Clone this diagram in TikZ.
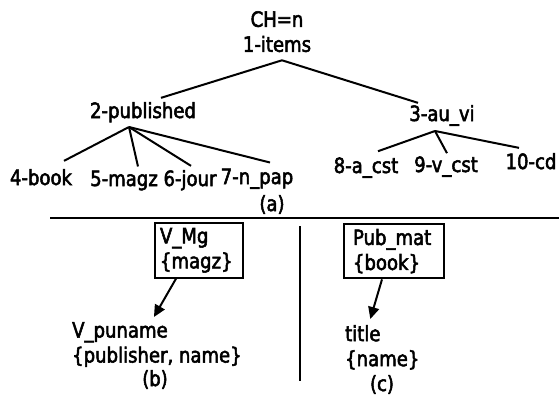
\documentclass[tikz,border=0pt]{standalone}
\usepackage{fontspec}
\setmainfont{DejaVu Sans}[FakeStretch=0.86,FakeBold=2.5]
\usetikzlibrary{arrows.meta}
\begin{document}
\begin{tikzpicture}[x=1pt,y=-1pt,
  lbl/.style={inner sep=0pt, font=\fontsize{21}{25}\selectfont},
  branch/.style={line width=2pt},
  boxlbl/.style={lbl, draw, line width=2pt, align=left, inner ysep=5pt},
  pointer/.style={line width=2pt, -{Triangle[length=12pt,width=11pt]}}]
\useasboundingbox (0,0) rectangle (559,397);

% tree (a)
\node[lbl, align=center, anchor=north] (root) at (277,11) {CH=n\\1-items};
\node[lbl, anchor=base] (pub) at (143,118) {2-published};
\node[lbl, anchor=base] (au) at (442,121) {3-au\_vi};
\node[lbl, anchor=base] (book) at (41,185) {4-book};
\node[lbl, anchor=base] (magz) at (124,186) {5-magz};
\node[lbl, anchor=base] (jour) at (190,186) {6-jour};
\node[lbl, anchor=base] (npap) at (257,184) {7-n\_pap};
\node[lbl, anchor=base] (acst) at (366,173) {8-a\_cst};
\node[lbl, anchor=base] (vcst) at (446,172) {9-v\_cst};
\node[lbl, anchor=base] (cd) at (531,169) {10-cd};
\node[lbl, anchor=base] (capa) at (272,211) {(a)};

\coordinate (rootfoot) at ([xshift=5pt,yshift=-8pt]root.south);
\coordinate (pubfoot) at ([xshift=-14pt,yshift=-9pt]pub.base);
\coordinate (aufoot) at ([xshift=-7pt,yshift=-10pt]au.base);

\draw[branch] (rootfoot) -- ([xshift=18pt,yshift=4pt]pub.north);
\draw[branch] (rootfoot) -- ([xshift=-24pt,yshift=2pt]au.north);
\draw[branch] (pubfoot) -- ([xshift=23pt,yshift=8pt]book.north);
\draw[branch] (pubfoot) -- ([xshift=14pt,yshift=4pt]magz.north);
\draw[branch] (pubfoot) -- ([xshift=1pt,yshift=4pt]jour.north);
\draw[branch] (pubfoot) -- ([xshift=13pt,yshift=6pt]npap.north);
\draw[branch] (aufoot) -- ([xshift=12pt,yshift=6pt]acst.north);
\draw[branch] (aufoot) -- ([xshift=1pt,yshift=3pt]vcst.north);
\draw[branch] (aufoot) -- ([xshift=-12pt,yshift=5pt]cd.north);

% separators
\coordinate (sepL) at (50,218);
\coordinate (sepR) at (559,218);
\coordinate (midT) at (300,226);
\coordinate (midB) at (300,381);
\draw[branch] (sepL) -- (sepR);
\draw[branch] (midT) -- (midB);

% view (b)
\node[boxlbl, anchor=north west, inner xsep=5pt, text width=78pt] (vmg) at (154,222) {V\_Mg\\\{magz\}};
\node[lbl, align=left, anchor=north west] (vpun) at (72,322) {V\_puname\\\{publisher, name\}};
\node[lbl, anchor=base] (capb) at (155,386) {(b)};
\draw[pointer] ([xshift=-23pt]vmg.south) -- ([xshift=-3pt,yshift=5pt]vpun.north);

% view (c)
\node[boxlbl, anchor=north west, inner xsep=9pt, text width=82pt] (pmat) at (343,223) {Pub\_mat\\\{book\}};
\node[lbl, align=left, anchor=north west] (ttl) at (345,325) {title\\\{name\}};
\node[lbl, anchor=base] (capc) at (382,391) {(c)};
\draw[pointer] ([xshift=-12pt]pmat.south) -- ([xshift=-12pt,yshift=6pt]ttl.north);
\end{tikzpicture}
\end{document}
